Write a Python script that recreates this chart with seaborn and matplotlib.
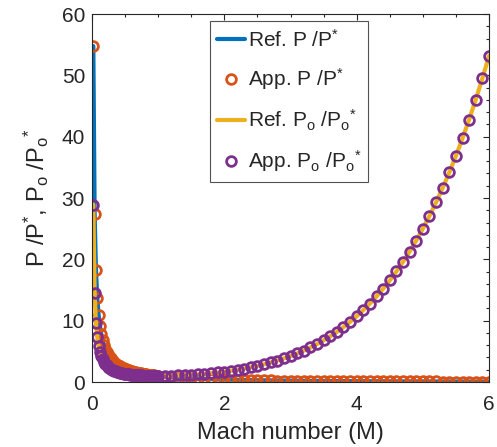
import matplotlib
matplotlib.use("Agg")
import matplotlib.pyplot as plt
import seaborn as sns
import pandas as pd
from matplotlib.ticker import MultipleLocator

# Mach numbers: dense (0.02 step) up to 1, then 0.1 step up to 6
mach_sub = [0.02, 0.04, 0.06, 0.08, 0.10, 0.12, 0.14, 0.16, 0.18, 0.20,
            0.22, 0.24, 0.26, 0.28, 0.30, 0.32, 0.34, 0.36, 0.38, 0.40,
            0.42, 0.44, 0.46, 0.48, 0.50, 0.52, 0.54, 0.56, 0.58, 0.60,
            0.62, 0.64, 0.66, 0.68, 0.70, 0.72, 0.74, 0.76, 0.78, 0.80,
            0.82, 0.84, 0.86, 0.88, 0.90, 0.92, 0.94, 0.96, 0.98, 1.00]
mach_sup = [1.1, 1.2, 1.3, 1.4, 1.5, 1.6, 1.7, 1.8, 1.9, 2.0,
            2.1, 2.2, 2.3, 2.4, 2.5, 2.6, 2.7, 2.8, 2.9, 3.0,
            3.1, 3.2, 3.3, 3.4, 3.5, 3.6, 3.7, 3.8, 3.9, 4.0,
            4.1, 4.2, 4.3, 4.4, 4.5, 4.6, 4.7, 4.8, 4.9, 5.0,
            5.1, 5.2, 5.3, 5.4, 5.5, 5.6, 5.7, 5.8, 5.9, 6.0]

# Static pressure ratio P/P*
p_ratio_sub = [54.77, 27.38, 18.25, 13.68, 10.94, 9.116, 7.809, 6.829, 6.066, 5.455,
               4.955, 4.538, 4.185, 3.882, 3.619, 3.389, 3.185, 3.004, 2.842, 2.696,
               2.563, 2.443, 2.333, 2.231, 2.138, 2.052, 1.972, 1.898, 1.828, 1.763,
               1.703, 1.646, 1.592, 1.541, 1.493, 1.448, 1.405, 1.365, 1.326, 1.289,
               1.254, 1.221, 1.189, 1.158, 1.129, 1.101, 1.074, 1.049, 1.024, 1.000]
p_ratio_sup = [0.8936, 0.8044, 0.7285, 0.6632, 0.6065, 0.5568, 0.5130, 0.4741, 0.4394, 0.4082,
               0.3802, 0.3549, 0.3320, 0.3111, 0.2921, 0.2747, 0.2588, 0.2441, 0.2307, 0.2182,
               0.2067, 0.1961, 0.1862, 0.1770, 0.1685, 0.1606, 0.1531, 0.1462, 0.1397, 0.1336,
               0.1279, 0.1226, 0.1175, 0.1128, 0.1083, 0.1041, 0.1001, 0.0964, 0.0928, 0.0894,
               0.0862, 0.0832, 0.0803, 0.0776, 0.0750, 0.0725, 0.0702, 0.0679, 0.0658, 0.0638]

# Stagnation pressure ratio Po/Po*
p0_ratio_sub = [28.94, 14.48, 9.666, 7.262, 5.822, 4.864, 4.182, 3.673, 3.278, 2.964,
                2.708, 2.496, 2.317, 2.166, 2.035, 1.922, 1.823, 1.736, 1.659, 1.590,
                1.529, 1.474, 1.425, 1.380, 1.340, 1.303, 1.270, 1.240, 1.213, 1.188,
                1.166, 1.145, 1.127, 1.110, 1.094, 1.081, 1.068, 1.057, 1.047, 1.038,
                1.030, 1.024, 1.018, 1.013, 1.009, 1.006, 1.003, 1.001, 1.000, 1.000]
p0_ratio_sup = [1.008, 1.030, 1.066, 1.115, 1.176, 1.250, 1.338, 1.439, 1.555, 1.6875,
                1.837, 2.005, 2.193, 2.403, 2.637, 2.896, 3.183, 3.500, 3.850, 4.235,
                4.657, 5.121, 5.629, 6.184, 6.790, 7.450, 8.169, 8.951, 9.799, 10.719,
                11.715, 12.792, 13.955, 15.210, 16.562, 18.018, 19.583, 21.264, 23.067, 25.000,
                27.070, 29.283, 31.649, 34.175, 36.869, 39.740, 42.797, 46.050, 49.507, 53.180]

x_ticks = [0, 2, 4, 6]
y_ticks = [0, 10, 20, 30, 40, 50, 60]

df = pd.DataFrame({
    "M": mach_sub + mach_sup,
    "P": p_ratio_sub + p_ratio_sup,
    "P0": p0_ratio_sub + p0_ratio_sup,
})

sns.set_style("white")
plt.rcParams["font.family"] = ["Liberation Sans", "DejaVu Sans"]
plt.rcParams["mathtext.fontset"] = "custom"
plt.rcParams["mathtext.rm"] = "Liberation Sans"
plt.rcParams["mathtext.it"] = "Liberation Sans"
plt.rcParams["mathtext.bf"] = "Liberation Sans"

c_blue = "#0072BD"
c_orange = "#D95319"
c_yellow = "#EDB120"
c_purple = "#7E2F8E"
c_axis = "#262626"

fig = plt.figure(figsize=(4.97, 4.47), dpi=100)
ax = fig.add_axes([92 / 497, 1 - 382 / 447, (489 - 92) / 497, (382 - 14) / 447])

sns.lineplot(data=df, x="M", y="P", ax=ax, color=c_blue, lw=3,
             label=r"Ref. P /P$^{*}$")
sns.lineplot(data=df, x="M", y="P", ax=ax, color=c_orange, linestyle="none",
             marker="o", markersize=7, markerfacecolor="none",
             markeredgecolor=c_orange, markeredgewidth=2,
             label=r"App. P /P$^{*}$")
sns.lineplot(data=df, x="M", y="P0", ax=ax, color=c_yellow, lw=3,
             label=r"Ref. P$_\mathrm{o}$ /P$_\mathrm{o}$$^{*}$")
sns.lineplot(data=df, x="M", y="P0", ax=ax, color=c_purple, linestyle="none",
             marker="o", markersize=7, markerfacecolor="none",
             markeredgecolor=c_purple, markeredgewidth=2,
             label=r"App. P$_\mathrm{o}$ /P$_\mathrm{o}$$^{*}$")

ax.set_xlim(0, 6)
ax.set_ylim(0, 60)
ax.set_xticks(x_ticks)
ax.set_yticks(y_ticks)
ax.xaxis.set_minor_locator(MultipleLocator(0.5))
ax.yaxis.set_minor_locator(MultipleLocator(2))
ax.tick_params(which="both", direction="in", top=True, right=True,
               colors=c_axis, labelsize=15, width=0.8)
ax.tick_params(which="major", length=4)
ax.tick_params(axis="x", which="major", pad=9)
ax.tick_params(axis="y", which="major", pad=5)
ax.tick_params(which="minor", length=2.5)
for s in ax.spines.values():
    s.set_color(c_axis)
    s.set_linewidth(0.8)

ax.set_xlabel("Mach number (M)", fontsize=17, color=c_axis, labelpad=6)
ax.set_ylabel(r"P /P$^{*}$, P$_\mathrm{o}$ /P$_\mathrm{o}$$^{*}$", fontsize=17,
              color=c_axis, labelpad=8)

leg = ax.legend(loc="upper center", bbox_to_anchor=(0.497, 0.98), fontsize=15,
                frameon=True, fancybox=False, handlelength=1.3, handletextpad=0.15,
                labelspacing=0.75, borderpad=0.35, borderaxespad=0)
leg.get_frame().set_edgecolor(c_axis)
leg.get_frame().set_linewidth(0.8)

fig.savefig("out.png", dpi=100)
